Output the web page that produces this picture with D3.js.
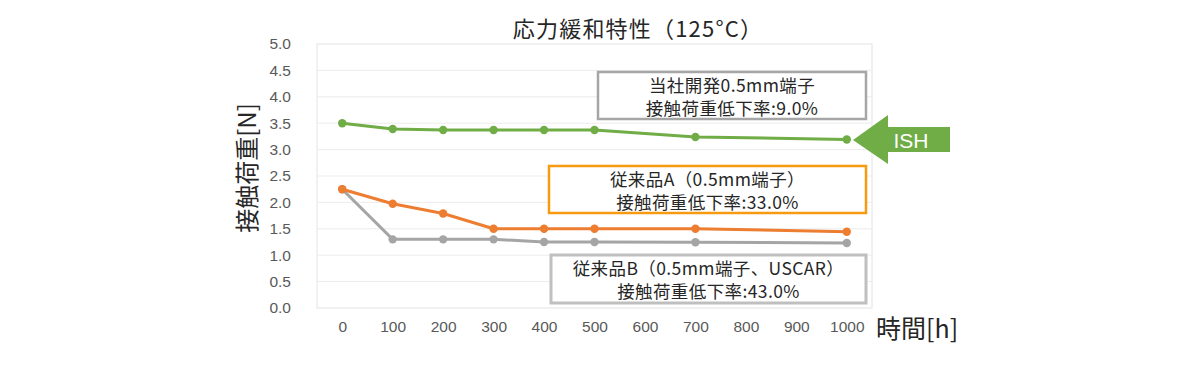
<!DOCTYPE html>
<html><head><meta charset="utf-8">
<script src="https://cdn.jsdelivr.net/npm/d3@7"></script>
<style>
body{margin:0;background:#fff;}
svg{display:block;}
</style></head>
<body>
<svg id="chart" width="1200" height="392"></svg>
<script>
const categories = ["0","100","200","300","400","500","600","700","800","900","1000"];
const hours = ["0","100","200","300","400","500","700","1000"];
const ishValues = [3.50, 3.39, 3.37, 3.37, 3.37, 3.37, 3.24, 3.19];
const conventionalA = [2.25, 1.975, 1.79, 1.50, 1.50, 1.50, 1.50, 1.445];
const conventionalB = [2.25, 1.30, 1.30, 1.30, 1.25, 1.25, 1.245, 1.23];
const yTicks = [0,0.5,1,1.5,2,2.5,3,3.5,4,4.5,5];
const title = "応力緩和特性（125°C）";
const yLabel = "接触荷重[N]";
const xLabel = "時間[h]";
const noteISH = ["当社開発0.5mm端子","接触荷重低下率:9.0%"];
const noteA = ["従来品A（0.5mm端子）","接触荷重低下率:33.0%"];
const noteB = ["従来品B（0.5mm端子、USCAR）","接触荷重低下率:43.0%"];
const arrowLabel = "ISH";

const svg = d3.select("#chart");
const pLeft = 317, pRight = 872, pTop = 44, pBottom = 308;
const jp = "'Noto Sans CJK JP','Noto Sans',sans-serif";
const num = "'Liberation Sans',Arial,sans-serif";

const x = d3.scalePoint().domain(categories).range([pLeft, pRight]).padding(0.5);
const y = d3.scaleLinear().domain([0, 5]).range([pBottom, pTop]);

// plot border
svg.append("rect").attr("x", pLeft).attr("y", pTop).attr("width", pRight-pLeft).attr("height", pBottom-pTop)
  .attr("fill","none").attr("stroke","#e3e3e3").attr("stroke-width",1);

// gridlines
svg.append("g").selectAll("line").data(yTicks.slice(1,-1)).join("line")
  .attr("x1", pLeft).attr("x2", pRight).attr("y1", d=>y(d)).attr("y2", d=>y(d))
  .attr("stroke","#ececec").attr("stroke-width",1);

// y axis
const yAxis = svg.append("g").attr("transform",`translate(${pLeft},0)`)
  .call(d3.axisLeft(y).tickValues(yTicks).tickFormat(d3.format(".1f")).tickSize(0).tickPadding(26));
yAxis.select(".domain").remove();
yAxis.selectAll("text").attr("font-family", num).attr("font-size", 15.5).attr("fill","#595959");

// x axis
const xAxis = svg.append("g").attr("transform",`translate(0,${pBottom})`)
  .call(d3.axisBottom(x).tickSize(0).tickPadding(13));
xAxis.select(".domain").remove();
xAxis.selectAll("text").attr("font-family", num).attr("font-size", 15.5).attr("fill","#595959");

// series
const series = [
  {vals: conventionalB, color: "#a5a5a5"},
  {vals: conventionalA, color: "#ed7d31"},
  {vals: ishValues, color: "#70ad47"}
];
const line = d3.line().x(d=>x(d[0])).y(d=>y(d[1]));
series.forEach(s=>{
  const pts = hours.map((h,i)=>[h, s.vals[i]]);
  svg.append("path").datum(pts).attr("d", line).attr("fill","none")
    .attr("stroke", s.color).attr("stroke-width",3).attr("stroke-linejoin","round");
  svg.append("g").selectAll("circle").data(pts).join("circle")
    .attr("cx", d=>x(d[0])).attr("cy", d=>y(d[1])).attr("r",4.2).attr("fill", s.color);
});

// annotation boxes
function note(lines, x0, y0, w, h, stroke, sw){
  svg.append("rect").attr("x",x0).attr("y",y0).attr("width",w).attr("height",h)
    .attr("fill","#fff").attr("stroke",stroke).attr("stroke-width",sw);
  lines.forEach((t,i)=>{
    svg.append("text").attr("x", x0+w/2).attr("y", y0+h/2 + (i===0?-11.5:11.5))
      .attr("text-anchor","middle").attr("dominant-baseline","central")
      .attr("font-family", jp).attr("font-size",17.5).attr("letter-spacing",0.4)
      .attr("fill","#262626").text(t);
  });
}
note(noteISH, 598, 72, 268, 47, "#a6a6a6", 2.5);
note(noteA, 549, 166, 317, 47, "#f79a10", 2.5);
note(noteB, 551, 255, 315, 48, "#bfbfbf", 3);

// ISH arrow
const arrowPts = [[853,140],[888,115],[888,127],[950,127],[950,152],[888,152],[888,164]];
svg.append("polygon").attr("points", arrowPts.map(p=>p.join(",")).join(" ")).attr("fill","#70ad47");
svg.append("text").attr("x", 911).attr("y", 140).attr("text-anchor","middle").attr("dominant-baseline","central")
  .attr("font-family", num).attr("font-size",21).attr("fill","#fff").text(arrowLabel);

// title
svg.append("text").attr("x", 638).attr("y", 27).attr("text-anchor","middle").attr("dominant-baseline","central")
  .attr("font-family", jp).attr("font-size",22).attr("letter-spacing",1.2).attr("fill","#262626").text(title);

// y label
svg.append("text").attr("transform","translate(245,168) rotate(-90)").attr("text-anchor","middle")
  .attr("dominant-baseline","central").attr("font-family", jp).attr("font-size",24).attr("fill","#262626").text(yLabel);

// x label
svg.append("text").attr("x", 876).attr("y", 327).attr("dominant-baseline","central")
  .attr("font-family", jp).attr("font-size",25).attr("fill","#262626").text(xLabel);
</script>
</body></html>
